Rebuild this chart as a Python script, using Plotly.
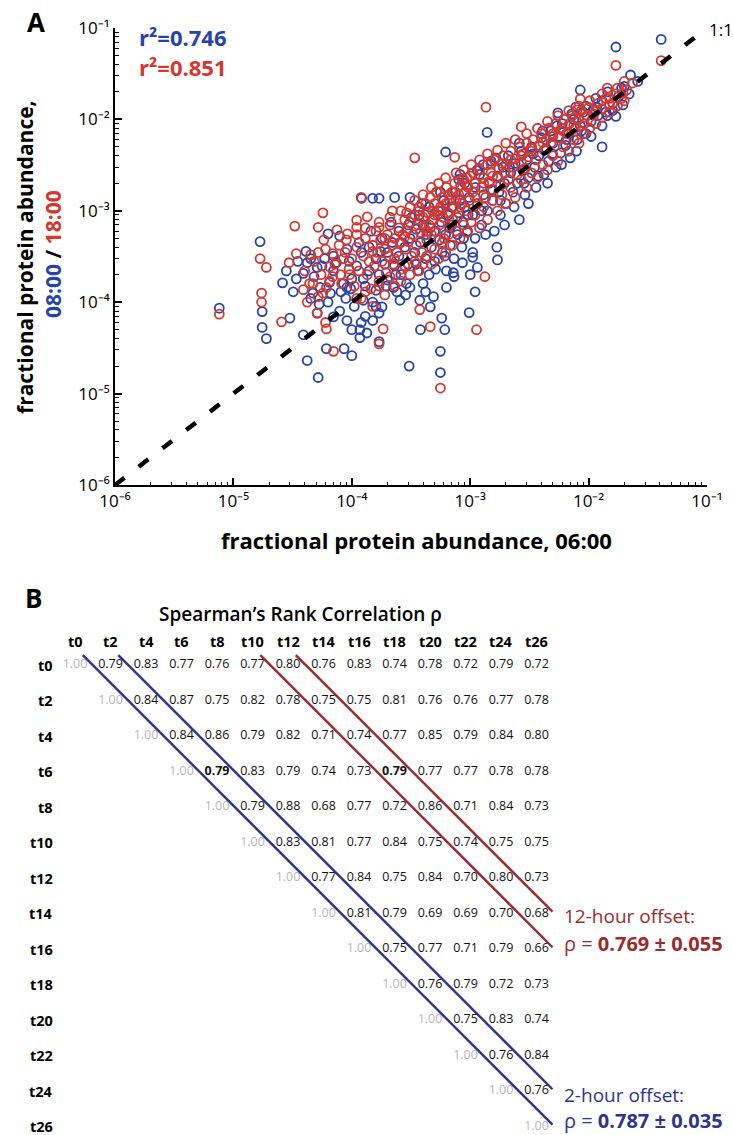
import plotly.graph_objects as go

W, H = 733, 1135
FONT = "Open Sans"


def fx(p):
    return p / W


def fy(p):
    return 1 - p / H


# ---------------- Panel A data: (06:00 abundance, 08:00 or 18:00 abundance) ----------------
blue_0800 = [
    (7.6e-6, 8.6e-5), (1.68e-5, 4.6e-4), (1.75e-5, 7.9e-5), (1.75e-5, 5.3e-5), (1.9e-5, 4.0e-5),
    (2.6e-5, 1.63e-4), (3.0e-5, 6.7e-5), (3.9e-5, 2.07e-4), (3.9e-5, 4.4e-5), (4.2e-5, 2.3e-5),
    (5.2e-5, 1.5e-5), (6.1e-5, 3.1e-5), (8.6e-5, 3.1e-5), (1.0e-4, 2.6e-5), (6.3e-5, 5.6e-4),
    (7.9e-5, 5.3e-4), (1.21e-4, 1.37e-3), (1.5e-4, 1.37e-3), (1.7e-4, 1.37e-3), (2.3e-4, 1.4e-3),
    (3.1e-4, 1.4e-3), (6.2e-4, 4.4e-3), (1.39e-3, 7.2e-3), (5.6e-4, 1.7e-5), (5.6e-4, 2.9e-5),
    (3.05e-4, 2.0e-5), (1.7e-4, 3.7e-5), (9.8e-4, 7.7e-5), (1.1e-3, 1.3e-4), (6.1e-4, 5.0e-5),
    (3.8e-4, 5.0e-5), (5.75e-4, 6.7e-5),
    (4.1e-2, 7.5e-2), (1.7e-2, 6.2e-2), (2.26e-2, 3.06e-2), (8.5e-3, 2.1e-2), (5.5e-3, 1.18e-2),
    (7.8e-3, 1.36e-2), (1.17e-2, 1.36e-2), (1.95e-2, 1.44e-2), (1.44e-2, 1.1e-2), (1.7e-2, 1.08e-2),
    (8.2e-4, 2.5e-3), (1.29e-3, 3.2e-3), (1.7e-3, 2.9e-4), (1.68e-3, 4.0e-4), (1.05e-3, 3.1e-4),
    (1.15e-3, 2.4e-4), (1.0e-3, 2.0e-4),
    (4.2e-5, 2.7e-4), (5.1e-5, 2.4e-4), (7.0e-5, 2.2e-4), (6.5e-5, 1.65e-4), (4.7e-5, 1.26e-4),
    (5.4e-5, 1.45e-4), (5.1e-5, 7.6e-5), (7.0e-5, 6.9e-5), (9.1e-5, 6.3e-5), (1.0e-4, 5.0e-5),
    (1.17e-4, 5.0e-5), (1.17e-4, 4.1e-5), (1.34e-4, 4.6e-5), (1.5e-4, 6.3e-5), (1.7e-4, 7.6e-5),
    (1.8e-4, 8.9e-5), (9.1e-5, 1.45e-4), (1.25e-4, 1.05e-4), (1.6e-4, 1.35e-4), (2.0e-4, 1.75e-4),
    (2.25e-4, 1.45e-4), (2.55e-4, 1.05e-4), (3.1e-4, 1.45e-4), (3.75e-4, 1.05e-4), (4.6e-4, 8.9e-5),
    (4.9e-4, 1.15e-4), (6.3e-4, 1.45e-4), (7.2e-4, 2.1e-4), (8.6e-4, 2.7e-4),
    (2.8e-5, 2.2e-4), (3.2e-5, 1.3e-4), (3.5e-5, 2.8e-4), (4.5e-5, 1.1e-4), (4.5e-5, 3.0e-4),
    (5.6e-5, 2.5e-4), (6.3e-5, 1.0e-4), (7.0e-5, 3.2e-4), (7.9e-5, 8.0e-5), (8.5e-5, 1.6e-4),
    (8.9e-5, 1.1e-4), (9.5e-5, 2.8e-4), (1.0e-4, 1.8e-4), (1.2e-4, 6.0e-5), (1.3e-4, 7.0e-5),
    (1.5e-4, 1.0e-4),
    (1.1e-4, 2.5e-4), (1.2e-4, 3.5e-4), (1.25e-4, 1.8e-4), (1.4e-4, 2.2e-4), (1.4e-4, 4.0e-4),
    (1.6e-4, 3.0e-4), (1.7e-4, 2.0e-4), (1.8e-4, 5.0e-4), (1.9e-4, 2.6e-4), (2.0e-4, 3.5e-4),
    (2.2e-4, 4.5e-4), (2.3e-4, 2.5e-4), (2.4e-4, 1.3e-4), (2.5e-4, 3.2e-4), (2.5e-4, 6.0e-4),
    (2.6e-4, 2.0e-4), (2.8e-4, 4.0e-4), (2.9e-4, 1.6e-4), (3.0e-4, 2.6e-4), (3.0e-4, 7.0e-4),
    (3.1e-4, 5.0e-4),
    (3.4e-4, 3.5e-4), (3.5e-4, 6.3e-4), (3.6e-4, 2.2e-4), (3.7e-4, 9.0e-4), (3.8e-4, 4.5e-4),
    (4.0e-4, 1.6e-4), (4.0e-4, 7.0e-4), (4.2e-4, 3.0e-4), (4.3e-4, 5.5e-4), (4.5e-4, 1.1e-3),
    (4.5e-4, 2.0e-4), (4.7e-4, 4.0e-4), (4.8e-4, 8.0e-4), (5.0e-4, 6.0e-4), (5.0e-4, 2.8e-4),
    (5.4e-4, 1.0e-3), (5.5e-4, 4.8e-4), (5.7e-4, 7.5e-4), (5.8e-4, 3.5e-4), (6.0e-4, 1.3e-3),
    (6.2e-4, 5.5e-4), (6.3e-4, 2.2e-4), (6.5e-4, 9.0e-4), (6.8e-4, 4.2e-4), (7.0e-4, 1.1e-3),
    (7.0e-4, 7.0e-4), (7.3e-4, 3.0e-4), (7.5e-4, 1.6e-3), (7.8e-4, 5.5e-4), (8.0e-4, 9.5e-4),
    (8.2e-4, 1.3e-3), (8.5e-4, 4.0e-4), (8.7e-4, 7.5e-4), (9.0e-4, 2.0e-3), (9.0e-4, 1.1e-3),
    (9.5e-4, 6.0e-4), (9.8e-4, 1.4e-3),
    (1.05e-3, 9.0e-4), (1.1e-3, 1.8e-3), (1.1e-3, 5.0e-4), (1.15e-3, 1.2e-3), (1.2e-3, 2.5e-3),
    (1.25e-3, 7.0e-4), (1.3e-3, 1.5e-3), (1.4e-3, 1.0e-3), (1.45e-3, 2.0e-3), (1.5e-3, 3.5e-3),
    (1.55e-3, 1.3e-3), (1.6e-3, 6.0e-4), (1.7e-3, 2.4e-3), (1.75e-3, 1.6e-3), (1.8e-3, 9.0e-4),
    (1.9e-3, 3.0e-3), (1.95e-3, 2.0e-3), (2.0e-3, 1.2e-3), (2.1e-3, 4.0e-3), (2.2e-3, 2.6e-3),
    (2.3e-3, 1.6e-3), (2.4e-3, 3.3e-3), (2.5e-3, 2.0e-3), (2.6e-3, 8.0e-4), (2.7e-3, 4.5e-3),
    (2.8e-3, 2.8e-3), (2.9e-3, 1.5e-3), (3.0e-3, 3.6e-3), (3.1e-3, 2.3e-3),
    (3.3e-3, 5.0e-3), (3.5e-3, 3.0e-3), (3.6e-3, 1.8e-3), (3.8e-3, 4.0e-3), (4.0e-3, 6.3e-3),
    (4.2e-3, 2.5e-3), (4.4e-3, 4.8e-3), (4.6e-3, 3.5e-3), (4.8e-3, 7.5e-3), (5.0e-3, 5.5e-3),
    (5.3e-3, 3.0e-3), (5.6e-3, 6.5e-3), (5.8e-3, 4.3e-3), (6.0e-3, 9.0e-3), (6.4e-3, 5.2e-3),
    (6.8e-3, 7.0e-3), (7.0e-3, 3.8e-3), (7.5e-3, 1.0e-2), (8.0e-3, 6.0e-3), (8.5e-3, 8.5e-3),
    (9.0e-3, 1.2e-2), (9.5e-3, 7.0e-3), (1.3e-2, 5.0e-3),
    (1.05e-2, 9.5e-3), (1.1e-2, 1.3e-2), (1.2e-2, 1.1e-2), (1.3e-2, 1.6e-2), (1.4e-2, 1.2e-2),
    (1.6e-2, 1.5e-2), (1.8e-2, 1.8e-2), (2.0e-2, 2.3e-2),
    (1.05e-4, 9.0e-5), (1.15e-4, 4.5e-4), (1.3e-4, 1.5e-4), (1.45e-4, 6.0e-4), (1.6e-4, 9.0e-5),
    (1.75e-4, 3.6e-4), (1.95e-4, 1.5e-4), (2.15e-4, 7.5e-4), (2.35e-4, 2.0e-4), (2.6e-4, 4.5e-4),
    (2.85e-4, 1.2e-4), (3.2e-4, 8.5e-4), (3.5e-4, 2.6e-4), (3.9e-4, 1.2e-3), (4.2e-4, 1.3e-4),
    (4.6e-4, 6.5e-4), (5.1e-4, 2.3e-4), (5.6e-4, 1.6e-3), (6.1e-4, 3.2e-4), (6.7e-4, 6.5e-4),
    (7.3e-4, 1.9e-4), (8.0e-4, 2.2e-3), (8.8e-4, 5.0e-4), (9.6e-4, 9.0e-4), (1.05e-3, 3.5e-4),
    (1.15e-3, 2.8e-3), (1.25e-3, 1.0e-3), (1.35e-3, 5.5e-4), (1.5e-3, 1.7e-3), (1.65e-3, 3.8e-3),
    (1.8e-3, 1.3e-3), (1.95e-3, 7.0e-4), (2.15e-3, 3.0e-3), (2.35e-3, 1.1e-3), (2.6e-3, 5.5e-3),
    (2.85e-3, 2.0e-3), (3.1e-3, 1.2e-3), (3.4e-3, 4.2e-3), (3.75e-3, 2.4e-3), (4.1e-3, 7.5e-3),
    (4.5e-3, 2.0e-3), (4.95e-3, 4.2e-3), (5.4e-3, 8.5e-3), (5.9e-3, 3.2e-3), (6.5e-3, 6.0e-3),
    (7.2e-3, 1.15e-2), (7.9e-3, 4.5e-3), (8.7e-3, 7.5e-3), (9.5e-3, 1.4e-2), (1.05e-2, 6.5e-3),
    (1.15e-2, 1.7e-2), (1.3e-2, 8.5e-3), (1.45e-2, 2.0e-2), (1.6e-2, 1.25e-2), (1.9e-2, 2.2e-2),
    (2.2e-2, 1.9e-2), (2.6e-2, 2.6e-2),
    (3.4e-5, 1.8e-4), (4.1e-5, 3.6e-4), (4.8e-5, 1.9e-4), (5.3e-5, 9.5e-5), (5.9e-5, 3.0e-4),
    (6.6e-5, 1.25e-4), (7.4e-5, 2.7e-4), (8.1e-5, 1.3e-4), (9.1e-5, 3.8e-4), (9.8e-5, 1.4e-4),
]

red_1800 = [
    (7.6e-6, 7.4e-5), (1.68e-5, 3.0e-4), (1.9e-5, 2.4e-4), (1.73e-5, 1.26e-4), (1.73e-5, 1.0e-4),
    (2.55e-5, 6.1e-5), (2.95e-5, 2.7e-4), (3.4e-5, 3.4e-4), (3.3e-5, 6.8e-4), (5.2e-5, 6.6e-4),
    (5.7e-5, 9.5e-4), (7.0e-5, 2.9e-5), (6.1e-5, 5.1e-5), (1.2e-4, 1.4e-3), (3.4e-4, 3.8e-3),
    (7.4e-4, 3.85e-3), (1.36e-3, 1.36e-2), (5.6e-4, 1.15e-5), (1.13e-3, 5.0e-5), (1.7e-4, 3.5e-5),
    (1.84e-4, 5.1e-5), (4.6e-4, 5.4e-5), (1.33e-3, 1.9e-4), (3.75e-4, 8.3e-5),
    (4.1e-2, 4.4e-2), (1.7e-2, 3.9e-2), (2.35e-2, 2.5e-2), (1.44e-2, 2.2e-2), (8.5e-3, 1.67e-2),
    (1.95e-2, 1.93e-2), (1.6e-2, 1.5e-2), (8.0e-3, 1.27e-2), (2.7e-3, 8.3e-3),
    (4.5e-5, 3.3e-4), (5.2e-5, 3.5e-4), (4.7e-5, 1.6e-4), (3.9e-5, 1.37e-4), (4.2e-5, 1.0e-4),
    (5.2e-5, 1.15e-4), (5.7e-5, 1.26e-4), (6.1e-5, 1.45e-4), (6.9e-5, 1.9e-4), (6.5e-5, 2.45e-4),
    (6.9e-5, 3.4e-4), (9.0e-5, 4.8e-4), (1.1e-4, 6.6e-4), (1.1e-4, 7.9e-4), (1.35e-4, 8.6e-4),
    (1.7e-4, 6.6e-4), (2.2e-4, 1.0e-3), (2.9e-4, 9.5e-4), (3.7e-4, 1.0e-3), (5.2e-4, 1.6e-3),
    (7.2e-4, 1.6e-3), (9.4e-4, 2.3e-3), (1.06e-3, 2.6e-3), (1.5e-3, 3.3e-3),
    (5.1e-5, 7.6e-5), (6.0e-5, 6.0e-5), (8.0e-5, 2.0e-4), (8.5e-5, 3.0e-4), (9.5e-5, 2.3e-4),
    (1.0e-4, 3.0e-4), (1.05e-4, 1.5e-4), (1.1e-4, 4.0e-4), (1.15e-4, 2.2e-4), (1.2e-4, 1.1e-4),
    (1.25e-4, 3.2e-4), (1.3e-4, 5.0e-4), (1.35e-4, 2.0e-4), (1.4e-4, 2.8e-4), (1.45e-4, 1.4e-4),
    (1.5e-4, 4.2e-4), (1.55e-4, 2.5e-4), (1.6e-4, 6.0e-4), (1.65e-4, 3.5e-4), (1.7e-4, 1.7e-4),
    (1.75e-4, 4.8e-4), (1.8e-4, 2.8e-4), (1.9e-4, 3.8e-4), (1.95e-4, 2.1e-4), (2.0e-4, 5.5e-4),
    (2.05e-4, 3.2e-4), (2.1e-4, 7.0e-4), (2.2e-4, 4.2e-4), (2.25e-4, 2.6e-4), (2.3e-4, 5.0e-4),
    (2.4e-4, 3.5e-4), (2.5e-4, 6.5e-4), (2.55e-4, 4.5e-4), (2.6e-4, 2.3e-4), (2.7e-4, 5.5e-4),
    (2.8e-4, 8.0e-4), (2.85e-4, 3.8e-4), (2.9e-4, 6.0e-4), (3.0e-4, 4.6e-4), (3.1e-4, 7.5e-4),
    (3.2e-4, 3.2e-4),
    (3.3e-4, 5.5e-4), (3.4e-4, 9.0e-4), (3.5e-4, 4.2e-4), (3.6e-4, 7.0e-4), (3.7e-4, 1.1e-3),
    (3.8e-4, 5.8e-4), (3.9e-4, 3.5e-4), (4.0e-4, 8.5e-4), (4.1e-4, 6.5e-4), (4.2e-4, 1.2e-3),
    (4.3e-4, 4.8e-4), (4.4e-4, 9.5e-4), (4.5e-4, 7.0e-4), (4.6e-4, 1.4e-3), (4.7e-4, 5.5e-4),
    (4.8e-4, 1.0e-3), (4.9e-4, 8.0e-4), (5.0e-4, 1.2e-3), (5.1e-4, 6.0e-4), (5.2e-4, 1.6e-3),
    (5.3e-4, 9.0e-4), (5.5e-4, 7.0e-4), (5.6e-4, 1.1e-3), (5.8e-4, 1.4e-3), (5.9e-4, 8.5e-4),
    (6.0e-4, 5.0e-4), (6.2e-4, 1.2e-3), (6.3e-4, 1.8e-3), (6.5e-4, 9.5e-4), (6.7e-4, 1.3e-3),
    (6.8e-4, 7.0e-4), (7.0e-4, 1.6e-3), (7.2e-4, 1.1e-3), (7.4e-4, 2.0e-3), (7.6e-4, 1.3e-3),
    (7.8e-4, 8.5e-4), (8.0e-4, 1.5e-3), (8.3e-4, 1.9e-3), (8.5e-4, 1.2e-3), (8.8e-4, 2.2e-3),
    (9.0e-4, 1.6e-3), (9.3e-4, 1.0e-3), (9.6e-4, 1.8e-3), (9.8e-4, 1.3e-3),
    (1.0e-3, 2.4e-3), (1.05e-3, 1.6e-3), (1.1e-3, 2.0e-3), (1.15e-3, 1.2e-3), (1.2e-3, 2.8e-3),
    (1.25e-3, 1.8e-3), (1.3e-3, 2.3e-3), (1.35e-3, 1.4e-3), (1.4e-3, 3.2e-3), (1.45e-3, 2.1e-3),
    (1.5e-3, 2.6e-3), (1.55e-3, 1.7e-3), (1.6e-3, 3.6e-3), (1.7e-3, 2.3e-3), (1.75e-3, 2.9e-3),
    (1.8e-3, 1.9e-3), (1.9e-3, 4.0e-3), (1.95e-3, 2.6e-3), (2.0e-3, 3.2e-3), (2.1e-3, 2.2e-3),
    (2.2e-3, 4.5e-3), (2.3e-3, 3.0e-3), (2.4e-3, 3.7e-3), (2.5e-3, 2.5e-3), (2.6e-3, 5.0e-3),
    (2.7e-3, 3.4e-3), (2.8e-3, 4.2e-3), (2.9e-3, 2.9e-3), (3.0e-3, 5.5e-3), (3.1e-3, 3.9e-3),
    (3.3e-3, 4.5e-3), (3.4e-3, 6.0e-3), (3.6e-3, 3.6e-3), (3.8e-3, 5.2e-3), (4.0e-3, 7.0e-3),
    (4.2e-3, 4.6e-3), (4.4e-3, 6.0e-3), (4.6e-3, 8.0e-3), (4.8e-3, 5.5e-3), (5.0e-3, 7.0e-3),
    (5.3e-3, 9.0e-3), (5.6e-3, 6.3e-3), (5.9e-3, 8.0e-3), (6.2e-3, 1.0e-2), (6.5e-3, 7.0e-3),
    (6.9e-3, 9.0e-3), (7.3e-3, 1.1e-2), (7.7e-3, 8.0e-3), (8.2e-3, 1.0e-2), (8.7e-3, 1.25e-2),
    (9.2e-3, 9.0e-3), (9.7e-3, 1.1e-2),
    (1.0e-2, 1.35e-2), (1.1e-2, 1.15e-2), (1.2e-2, 1.5e-2), (1.3e-2, 1.3e-2), (1.4e-2, 1.7e-2),
    (1.5e-2, 1.45e-2), (1.7e-2, 1.9e-2), (1.9e-2, 1.7e-2), (2.1e-2, 2.1e-2),
    (1.1e-4, 1.1e-4), (1.1e-4, 5.5e-4), (1.3e-4, 1.3e-4), (1.3e-4, 6.5e-4), (1.5e-4, 3.6e-4),
    (1.5e-4, 9.0e-5), (1.7e-4, 7.5e-4), (1.7e-4, 1.5e-4), (1.9e-4, 1.2e-4), (1.9e-4, 5.0e-4),
    (2.1e-4, 1.9e-4), (2.1e-4, 8.5e-4), (2.3e-4, 1.5e-4), (2.3e-4, 3.0e-4), (2.6e-4, 1.0e-3),
    (2.6e-4, 1.7e-4), (2.8e-4, 2.5e-4), (2.8e-4, 5.2e-4), (3.1e-4, 2.0e-4), (3.1e-4, 1.1e-3),
    (3.4e-4, 2.8e-4), (3.4e-4, 1.3e-3), (3.7e-4, 2.2e-4), (3.7e-4, 8.0e-4), (4.0e-4, 2.6e-4),
    (4.0e-4, 1.5e-3), (4.3e-4, 3.2e-4), (4.3e-4, 6.0e-4), (4.7e-4, 2.6e-4), (4.7e-4, 1.8e-3),
    (5.0e-4, 3.8e-4), (5.0e-4, 9.0e-4), (5.4e-4, 3.0e-4), (5.4e-4, 2.0e-3), (5.8e-4, 4.5e-4),
    (5.8e-4, 1.0e-3), (6.2e-4, 3.5e-4), (6.2e-4, 2.3e-3), (6.6e-4, 5.5e-4), (6.6e-4, 1.5e-3),
    (7.1e-4, 4.2e-4), (7.1e-4, 8.0e-4), (7.6e-4, 6.0e-4), (7.6e-4, 2.6e-3), (8.2e-4, 5.0e-4),
    (8.2e-4, 1.1e-3), (8.8e-4, 7.0e-4), (8.8e-4, 2.8e-3), (9.4e-4, 5.8e-4), (9.4e-4, 1.9e-3),
    (1.02e-3, 7.5e-4), (1.02e-3, 3.2e-3), (1.1e-3, 9.0e-4), (1.1e-3, 1.4e-3), (1.2e-3, 6.5e-4),
    (1.2e-3, 3.6e-3), (1.3e-3, 1.1e-3), (1.3e-3, 2.0e-3), (1.4e-3, 8.0e-4), (1.4e-3, 4.2e-3),
    (1.55e-3, 1.3e-3), (1.55e-3, 2.4e-3), (1.7e-3, 1.0e-3), (1.7e-3, 4.6e-3), (1.85e-3, 1.5e-3),
    (1.85e-3, 3.3e-3), (2.0e-3, 1.2e-3), (2.0e-3, 5.5e-3), (2.2e-3, 1.8e-3), (2.2e-3, 3.6e-3),
    (2.4e-3, 1.4e-3), (2.4e-3, 6.0e-3), (2.7e-3, 2.2e-3), (2.7e-3, 4.0e-3), (3.0e-3, 1.8e-3),
    (3.0e-3, 7.0e-3), (3.3e-3, 2.6e-3), (3.3e-3, 4.8e-3), (3.7e-3, 2.3e-3), (3.7e-3, 8.0e-3),
    (4.1e-3, 3.2e-3), (4.1e-3, 5.6e-3), (4.5e-3, 2.8e-3), (4.5e-3, 9.5e-3), (5.0e-3, 4.0e-3),
    (5.0e-3, 6.5e-3), (5.5e-3, 3.5e-3), (5.5e-3, 1.1e-2), (6.1e-3, 5.0e-3), (6.1e-3, 7.5e-3),
    (6.8e-3, 4.5e-3), (6.8e-3, 1.25e-2), (7.5e-3, 6.0e-3), (7.5e-3, 8.5e-3), (8.3e-3, 5.5e-3),
    (8.3e-3, 1.4e-2), (9.2e-3, 7.0e-3), (9.2e-3, 1.05e-2), (1.02e-2, 8.0e-3), (1.02e-2, 1.6e-2),
    (1.15e-2, 9.0e-3), (1.15e-2, 1.25e-2), (1.3e-2, 1.05e-2), (1.3e-2, 1.9e-2), (1.5e-2, 1.2e-2),
    (1.5e-2, 1.7e-2), (1.75e-2, 1.4e-2), (1.75e-2, 2.2e-2), (2.0e-2, 1.6e-2), (2.0e-2, 2.6e-2),
    (4.0e-5, 2.2e-4), (4.8e-5, 2.8e-4), (5.5e-5, 2.0e-4), (6.0e-5, 3.8e-4), (6.5e-5, 1.7e-4),
    (7.2e-5, 2.6e-4), (7.8e-5, 4.2e-4), (8.2e-5, 1.6e-4), (8.8e-5, 3.5e-4), (9.2e-5, 5.6e-4),
    (9.6e-5, 2.0e-4), (5.8e-5, 4.8e-4), (7.5e-5, 6.2e-4), (4.4e-5, 1.6e-4),
]

identity_line = [1e-6, 1e-1]
r2_blue = 0.746
r2_red = 0.851
log_tick_vals = [1e-6, 1e-5, 1e-4, 1e-3, 1e-2, 1e-1]
log_tick_text = ["10⁻⁶", "10⁻⁵", "10⁻⁴", "10⁻³", "10⁻²", "10⁻¹"]

# ---------------- Panel B data: Spearman's rank correlation (upper triangle) ----------------
times = ["t0", "t2", "t4", "t6", "t8", "t10", "t12", "t14", "t16", "t18", "t20", "t22", "t24", "t26"]
rho_rows = [
    [1.00, 0.79, 0.83, 0.77, 0.76, 0.77, 0.80, 0.76, 0.83, 0.74, 0.78, 0.72, 0.79, 0.72],
    [1.00, 0.84, 0.87, 0.75, 0.82, 0.78, 0.75, 0.75, 0.81, 0.76, 0.76, 0.77, 0.78],
    [1.00, 0.84, 0.86, 0.79, 0.82, 0.71, 0.74, 0.77, 0.85, 0.79, 0.84, 0.80],
    [1.00, 0.79, 0.83, 0.79, 0.74, 0.73, 0.79, 0.77, 0.77, 0.78, 0.78],
    [1.00, 0.79, 0.88, 0.68, 0.77, 0.72, 0.86, 0.71, 0.84, 0.73],
    [1.00, 0.83, 0.81, 0.77, 0.84, 0.75, 0.74, 0.75, 0.75],
    [1.00, 0.77, 0.84, 0.75, 0.84, 0.70, 0.80, 0.73],
    [1.00, 0.81, 0.79, 0.69, 0.69, 0.70, 0.68],
    [1.00, 0.75, 0.77, 0.71, 0.79, 0.66],
    [1.00, 0.76, 0.79, 0.72, 0.73],
    [1.00, 0.75, 0.83, 0.74],
    [1.00, 0.76, 0.84],
    [1.00, 0.76],
    [1.00],
]
bold_cells = [("t6", "t8"), ("t6", "t18")]
offset_steps = {"2-hour": 1, "12-hour": 6}
offset_stats = {"2-hour": (0.787, 0.035), "12-hour": (0.769, 0.055)}

BLUE = "#2643a8"
RED = "#d6362e"
DBLUE = "#2b3590"
DRED = "#9c2a2c"

fig = go.Figure()

fig.add_trace(go.Scatter(
    x=[p[0] for p in blue_0800], y=[p[1] for p in blue_0800], mode="markers",
    marker=dict(symbol="circle-open", size=9, color=BLUE, line=dict(width=1.8)),
    xaxis="x", yaxis="y", hoverinfo="skip"))
fig.add_trace(go.Scatter(
    x=[p[0] for p in red_1800], y=[p[1] for p in red_1800], mode="markers",
    marker=dict(symbol="circle-open", size=9, color=RED, line=dict(width=1.8)),
    xaxis="x", yaxis="y", hoverinfo="skip"))
fig.add_trace(go.Scatter(
    x=identity_line, y=identity_line, mode="lines",
    line=dict(color="black", width=4.5, dash="12px,18px"),
    xaxis="x", yaxis="y", hoverinfo="skip"))

n = len(times)

# table cells
cx, cy, ctext, ccol = [], [], [], []
for i, row in enumerate(rho_rows):
    for k, v in enumerate(row):
        j = i + k
        cx.append(j)
        cy.append(i)
        s = f"{v:.2f}"
        if (times[i], times[j]) in bold_cells:
            s = f"<b>{s}</b>"
        ctext.append(s)
        ccol.append("#b8b8b8" if k == 0 else "#111111")
fig.add_trace(go.Scatter(
    x=cx, y=cy, text=ctext, mode="text",
    textfont=dict(family=FONT, size=12.5, color=ccol),
    xaxis="x2", yaxis="y2", hoverinfo="skip"))

# offset bracket lines
line_colors = {"2-hour": DBLUE, "12-hour": DRED}
r_start = -0.28
c_end = n - 1 + 0.45
for name, k in offset_steps.items():
    for d in (-0.5, 0.5):
        fig.add_trace(go.Scatter(
            x=[r_start + k + d, c_end], y=[r_start, c_end - k - d], mode="lines",
            line=dict(color=line_colors[name], width=2.4),
            xaxis="x2", yaxis="y2", hoverinfo="skip"))

axis_common = dict(type="log", range=[-6, -1], showgrid=False, zeroline=False,
                   showline=True, linecolor="black", linewidth=2,
                   ticks="inside", ticklen=7, tickwidth=1.5, tickcolor="black",
                   tickvals=log_tick_vals, ticktext=log_tick_text,
                   tickfont=dict(family=FONT, size=17, color="black"),
                   minor=dict(ticks="inside", ticklen=3.5, tickwidth=1, tickcolor="black",
                              tickvals=[m * 10.0 ** e for e in range(-6, -1) for m in range(2, 10)]),
                   automargin=False, fixedrange=True)

# column centers at 75 + 35.5*c px, row centers at 665 + 35.5*r px
cw = 35.5
x2_range = [(0 - 75) / cw, (W - 75) / cw]
y2_top_px = 590
y2_range = [(H - 665) / cw, (y2_top_px - 665) / cw]

hidden = dict(showgrid=False, zeroline=False, showline=False, ticks="", showticklabels=False,
              fixedrange=True, automargin=False)
fig.update_layout(
    width=W, height=H, margin=dict(l=0, r=0, t=0, b=0),
    paper_bgcolor="white", plot_bgcolor="rgba(0,0,0,0)", showlegend=False,
    font=dict(family=FONT, color="black"),
    xaxis=dict(domain=[fx(115), fx(707)], anchor="y", **axis_common),
    yaxis=dict(domain=[fy(485), fy(28)], anchor="x", **axis_common),
    xaxis2=dict(domain=[0, 1], range=x2_range, anchor="y2", **hidden),
    yaxis2=dict(domain=[0, fy(y2_top_px)], range=y2_range, anchor="x2", **hidden),
)

ann = []


def add_text(text, x, y, size, color="black", xanchor="center", yanchor="middle", angle=0, weight=None):
    f = dict(family=FONT, size=size, color=color)
    if weight:
        f["weight"] = weight
    ann.append(dict(text=text, x=fx(x), y=fy(y), xref="paper", yref="paper", showarrow=False,
                    xanchor=xanchor, yanchor=yanchor, textangle=angle, font=f))


# column headers and row labels, positioned in the table's index coordinates
header_row = -0.66
label_col = -0.55
for j, t in enumerate(times):
    ann.append(dict(text=t, x=j, y=header_row, xref="x2", yref="y2", showarrow=False,
                    xanchor="center", yanchor="middle",
                    font=dict(family=FONT, size=14.5, color="black", weight="bold")))
    ann.append(dict(text=t, x=label_col, y=j, xref="x2", yref="y2", showarrow=False,
                    xanchor="right", yanchor="middle",
                    font=dict(family=FONT, size=14.5, color="black", weight="bold")))

add_text("A", 36, 22, 26, weight="bold")
add_text(f"r²={r2_blue:.3f}", 137, 37, 22, BLUE, xanchor="left", weight="bold")
add_text(f"r²={r2_red:.3f}", 137, 67, 22, RED, xanchor="left", weight="bold")
add_text("1:1", 707, 30, 17, xanchor="left")
add_text("fractional protein abundance,", 25, 257, 21, angle=-90, weight="bold")
add_text(f"<span style='color:{BLUE}'>08:00</span> / <span style='color:{RED}'>18:00</span>",
         53, 254, 21, angle=-90, weight="bold")
add_text("fractional protein abundance, 06:00", 416, 540, 22, weight="bold")

add_text("B", 33, 598, 26, weight="bold")
add_text("Spearman’s Rank Correlation ρ", 300, 614, 19, weight=600)

m12, s12 = offset_stats["12-hour"]
m2, s2 = offset_stats["2-hour"]
add_text("12-hour offset:", 562, 916, 19, DRED, xanchor="left")
add_text(f"ρ = <b>{m12:.3f} ± {s12:.3f}</b>", 562, 943, 20, DRED, xanchor="left")
add_text("2-hour offset:", 562, 1095, 19, DBLUE, xanchor="left")
add_text(f"ρ = <b>{m2:.3f} ± {s2:.3f}</b>", 562, 1120, 20, DBLUE, xanchor="left")

fig.update_layout(annotations=ann)
fig.write_html("out.html")
